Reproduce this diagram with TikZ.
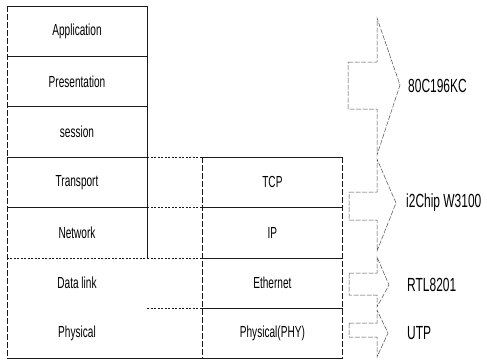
\documentclass[tikz,border=0pt]{standalone}
\usepackage{fontspec}
\setmainfont{Liberation Sans}[FakeStretch=0.63]
\usetikzlibrary{positioning}
\definecolor{sline}{HTML}{1A1A1A}
\definecolor{sgray}{HTML}{4D4D4D}
\newcommand{\layerfont}{\fontsize{16}{16}\selectfont}
\newcommand{\chipfont}{\fontsize{19}{19}\selectfont}
\tikzset{
  cell/.style={minimum width=140pt,minimum height=50pt,inner sep=0pt,font=\layerfont},
  grid/.style={draw=sline,line width=0.6pt},
  gap/.style={draw=sline,line width=0.6pt,dash pattern=on 2pt off 1.5pt},
  side/.style={draw=sline,line width=0.6pt,dash pattern=on 6pt off 2pt},
  blockarr/.style={draw=sgray,line width=0.5pt,dash pattern=on 5pt off 1.5pt,line join=miter},
  chip/.style={anchor=west,inner sep=0pt,font=\chipfont},
}

\begin{document}
\begin{tikzpicture}[x=1pt,y=-1pt]
  \useasboundingbox (0,0) rectangle (487,359);
  \node[cell] (app) at (77,31) {Application};
  \node[cell,below=0pt of app] (pres) {Presentation};
  \node[cell,below=0pt of pres] (sess) {session};
  \node[cell,below=0pt of sess] (trans) {Transport};
  \node[cell,below=0pt of trans] (net) {Network};
  \node[cell,below=0pt of net] (dlink) {Data link};
  \node[cell,below=0pt of dlink] (phys) {Physical};
  \node[cell,right=55pt of trans] (tcp) {TCP};
  \node[cell,below=0pt of tcp] (ip) {IP};
  \node[cell,below=0pt of ip] (eth) {Ethernet};
  \node[cell,below=0pt of eth] (phy) {Physical(PHY)};
  \node[chip] (mcu) at (408,86) {80C196KC};
  \node[chip] (w3100) at (406,203) {i2Chip W3100};
  \node[chip] (rtl) at (407,285) {RTL8201};
  \node[chip] (utp) at (407,333) {UTP};

  \draw[side] (app.north west) -- (phys.south west);
  \draw[grid] (app.north west) -- (app.north east) -- (net.south east);
  \foreach \c in {app,pres,sess,trans} \draw[grid] (\c.south west) -- (\c.south east);
  \draw[gap] (net.south west) -- (net.south east);
  \draw[grid] (tcp.north west) -- (tcp.north east);
  \foreach \c in {tcp,ip,eth} \draw[grid] (\c.south west) -- (\c.south east);
  \draw[side] (tcp.north west) -- (phy.south west);
  \draw[side] (tcp.north east) -- (phy.south east);
  \draw[gap] (trans.north east) -- (tcp.north west); \draw[gap] (net.north east) -- (ip.north west);
  \draw[gap] (net.south east) -- (eth.north west); \draw[gap] (dlink.south east) -- (phy.north west);
  \draw[grid] (phys.south west) -- (phy.south east);

  \draw[blockarr] (348,62) -- (377,62) -- (377,18) -- (400,85) -- (377,155) -- (377,109) -- (348,109) -- cycle;
  \draw[blockarr] (349,192) -- (377,192) -- (377,159) -- (396,203) -- (377,251) -- (377,220) -- (349,220) -- cycle;
  \draw[blockarr] (349,273) -- (377,273) -- (377,257) -- (389,285) -- (377,307) -- (377,295) -- (349,295) -- cycle;
  \draw[blockarr] (349,323) -- (377,323) -- (377,310) -- (388,333) -- (377,357) -- (377,337) -- (349,337) -- cycle;
\end{tikzpicture}
\end{document}
